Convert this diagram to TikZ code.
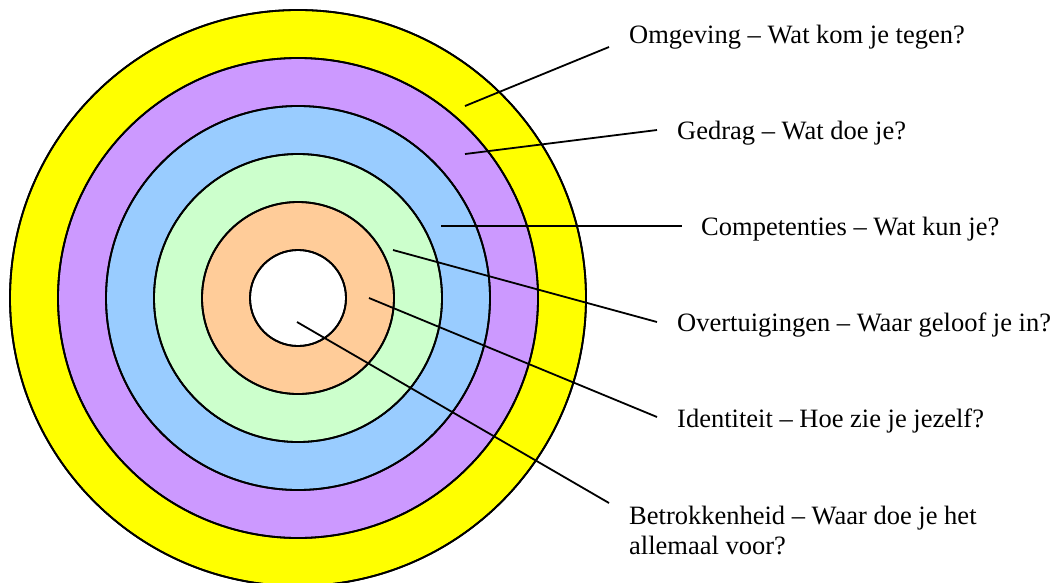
\documentclass[tikz,border=0pt]{standalone}
\usepackage{fontspec}
\setmainfont{Liberation Serif}
\definecolor{ringyellow}{HTML}{FFFF00}
\definecolor{ringpurple}{HTML}{CC99FF}
\definecolor{ringblue}{HTML}{99CCFF}
\definecolor{ringgreen}{HTML}{CCFFCC}
\definecolor{ringorange}{HTML}{FFCC99}
\begin{document}
\begin{tikzpicture}[x=1pt,y=-1pt,
  ring/.style={draw=black,line width=1.8pt},
  lbl/.style={anchor=base west,inner sep=0pt,font=\fontsize{26.5}{30}\selectfont},
  leader/.style={draw=black,line width=1.8pt}]
\useasboundingbox (0,0) rectangle (1060,582);
\begin{scope}
\clip (0,0) rectangle (1060,582);
\fill[ring,fill=ringyellow] (298,298) circle (288);
\fill[ring,fill=ringpurple] (298,298) circle (240);
\fill[ring,fill=ringblue] (298,298) circle (192);
\fill[ring,fill=ringgreen] (298,298) circle (144);
\fill[ring,fill=ringorange] (298,298) circle (96);
\fill[ring,fill=white] (298,298) circle (48);
\draw[ring] (298,298) circle (288);
\draw[ring] (298,298) circle (240);
\draw[ring] (298,298) circle (192);
\draw[ring] (298,298) circle (144);
\draw[ring] (298,298) circle (96);
\draw[ring] (298,298) circle (48);
\end{scope}
% labels
\node[lbl] (omg) at (629,43) {Omgeving – Wat kom je tegen?};
\node[lbl] (ged) at (677,139) {Gedrag – Wat doe je?};
\node[lbl] (com) at (701,235) {Competenties – Wat kun je?};
\node[lbl] (ove) at (677,331) {Overtuigingen – Waar geloof je in?};
\node[lbl] (ide) at (677,427) {Identiteit – Hoe zie je jezelf?};
\node[lbl] (bet) at (629,524) {\begin{tabular}[t]{@{}l@{}}Betrokkenheid – Waar doe je het\\allemaal voor?\end{tabular}};
% leader points
\coordinate (omgA) at (465,106);
\coordinate (omgB) at (609,47);
\coordinate (gedA) at (465,154);
\coordinate (gedB) at (657,130);
\coordinate (comA) at (441,226);
\coordinate (comB) at (682,226);
\coordinate (oveA) at (393,250);
\coordinate (oveB) at (657,322);
\coordinate (ideA) at (369,298);
\coordinate (ideB) at (657,417);
\coordinate (betA) at (297,322);
\coordinate (betB) at (609,503);
\draw[leader] (omgA) -- (omgB);
\draw[leader] (gedA) -- (gedB);
\draw[leader] (comA) -- (comB);
\draw[leader] (oveA) -- (oveB);
\draw[leader] (ideA) -- (ideB);
\draw[leader] (betA) -- (betB);
\end{tikzpicture}
\end{document}
